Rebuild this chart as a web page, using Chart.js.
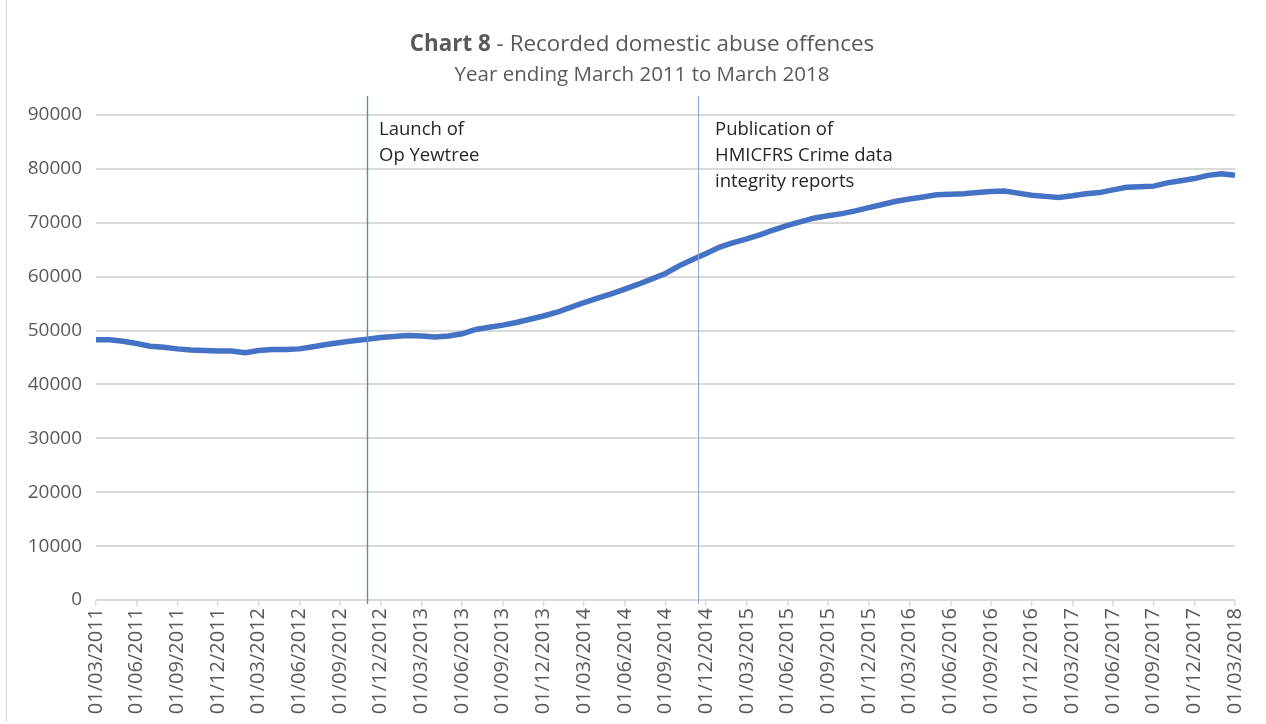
<!DOCTYPE html>
<html lang="en">
<head>
    <meta charset="UTF-8">
    <title>Chart 8 - Recorded domestic abuse offences</title>
    <style>
        body {
            margin: 0;
            background-color: white;
            font-family: "Open Sans", sans-serif;
            width: 1266px;
            height: 724px;
            overflow: hidden;
            position: relative;
        }
        .frame {
            position: absolute;
            left: 6px;
            top: 0;
            width: 1258px;
            height: 722px;
            border-left: 1px solid #d9d9d9;
        }
        .title {
            position: absolute;
            top: 28px;
            left: 0;
            width: 1284px;
            text-align: center;
            color: #595959;
            font-size: 22.4px;
            line-height: 30px;
        }
        .subtitle {
            position: absolute;
            top: 59px;
            left: 0;
            width: 1284px;
            text-align: center;
            color: #595959;
            font-size: 20.5px;
            line-height: 28px;
        }
        canvas {
            position: absolute;
            left: 0;
            top: 0;
        }
    </style>
</head>
<body>
    <div class="frame"></div>
    <canvas id="abuseChart" width="1266" height="724"></canvas>
    <div class="title"><b>Chart 8</b> - Recorded domestic abuse offences</div>
    <div class="subtitle">Year ending March 2011 to March 2018</div>

    <script src="https://cdn.jsdelivr.net/npm/chart.js"></script>
    <script>
        // monthly points, March 2011 to March 2018
        const startYear = 2011;
        const startMonth = 3;
        const monthCount = 85;

        const offences = [
            48300, 48300, 48000, 47600, 47100, 46900, 46600, 46400, 46300, 46200,
            46200, 45900, 46300, 46500, 46500, 46600, 47000, 47400, 47800, 48100,
            48400, 48700, 48900, 49100, 49000, 48800, 49000, 49400, 50200, 50600,
            51000, 51500, 52100, 52700, 53400, 54300, 55200, 56000, 56800, 57700,
            58600, 59600, 60600, 62000, 63200, 64300, 65500, 66300, 67000, 67800,
            68700, 69500, 70200, 70900, 71300, 71700, 72200, 72800, 73400, 74000,
            74400, 74800, 75200, 75300, 75400, 75600, 75800, 75900, 75500, 75100,
            74900, 74700, 75000, 75400, 75600, 76100, 76600, 76700, 76800, 77400,
            77800, 78200, 78800, 79100, 78800
        ];

        const yTicks = [0, 10000, 20000, 30000, 40000, 50000, 60000, 70000, 80000, 90000];

        // month index of each marker line and its note
        const markerAt = [20, 44.4];
        const markerText = [
            ['Launch of', 'Op Yewtree'],
            ['Publication of', 'HMICFRS Crime data', 'integrity reports']
        ];

        const labels = [];
        for (let i = 0; i < monthCount; i++) {
            const m = (startMonth - 1 + i) % 12 + 1;
            const y = startYear + Math.floor((startMonth - 1 + i) / 12);
            labels.push('01/' + String(m).padStart(2, '0') + '/' + y);
        }

        const markerPlugin = {
            id: 'markers',
            afterDraw(chart) {
                const ctx = chart.ctx;
                const x = chart.scales.x;
                const area = chart.chartArea;
                ctx.save();
                markerAt.forEach((idx, n) => {
                    const px = Math.round(x.getPixelForValue(idx));
                    ctx.strokeStyle = n === 0 ? '#5b88d6' : '#8eaadc';
                    ctx.lineWidth = n === 0 ? 1.4 : 1;
                    ctx.beginPath();
                    ctx.moveTo(px + 0.5, area.top - 19);
                    ctx.lineTo(px + 0.5, area.bottom + 4);
                    ctx.stroke();

                    ctx.fillStyle = '#262626';
                    ctx.font = '18.5px "Open Sans"';
                    ctx.textBaseline = 'middle';
                    markerText[n].forEach((line, k) => {
                        ctx.fillText(line, px + (n === 0 ? 12 : 17), area.top + 15 + k * 26);
                    });
                });
                ctx.restore();
            }
        };

        new Chart(document.getElementById('abuseChart'), {
            type: 'line',
            data: {
                labels: labels,
                datasets: [{
                    data: offences,
                    borderColor: '#4472c4',
                    borderWidth: 5.5,
                    pointRadius: 0,
                    tension: 0,
                    fill: false
                }]
            },
            options: {
                responsive: false,
                animation: false,
                layout: { padding: { top: 115, right: 31, left: 0, bottom: 0 } },
                plugins: {
                    legend: { display: false },
                    tooltip: { enabled: false }
                },
                scales: {
                    x: {
                        offset: false,
                        afterFit(scale) { scale.height = 124; },
                        border: { display: false },
                        grid: {
                            drawOnChartArea: false,
                            drawTicks: true,
                            tickLength: 6,
                            color: '#d9d9d9',
                            lineWidth: 1.5
                        },
                        ticks: {
                            autoSkip: false,
                            maxRotation: 90,
                            minRotation: 90,
                            padding: 2,
                            color: '#595959',
                            font: { family: 'Open Sans', size: 20 },
                            callback: function (value, index) {
                                return index % 3 === 0 ? this.getLabelForValue(value) : null;
                            }
                        }
                    },
                    y: {
                        min: 0,
                        max: 90000,
                        afterFit(scale) { scale.width = 96; },
                        afterBuildTicks(scale) {
                            scale.ticks = yTicks.map(v => ({ value: v }));
                        },
                        border: { display: false },
                        grid: {
                            drawTicks: false,
                            color: '#d9d9d9',
                            lineWidth: 2
                        },
                        ticks: {
                            padding: 14,
                            color: '#595959',
                            font: { family: 'Open Sans', size: 19 },
                            callback: value => String(value)
                        }
                    }
                }
            },
            plugins: [markerPlugin]
        });
    </script>
</body>
</html>
